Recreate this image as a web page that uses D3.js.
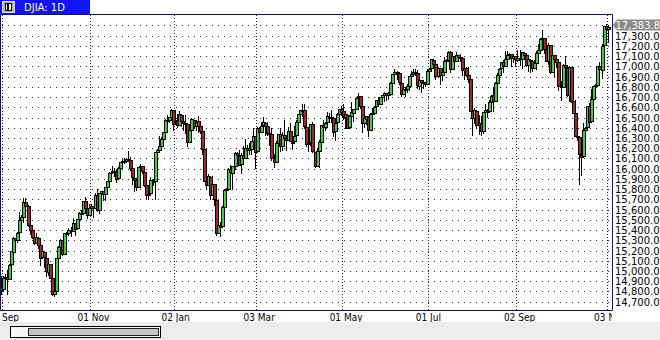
<!DOCTYPE html>
<html><head><meta charset="utf-8">
<script src="https://cdn.jsdelivr.net/npm/d3@7"></script>
<style>html,body{margin:0;padding:0;background:#fff;}svg{display:block;}</style>
</head><body><svg id="c" width="660" height="340"></svg>
<script>
// ---- DATA (DJIA daily, Sep 2013 - Nov 2014) ----
const dates = [
"2013-09-03","2013-09-04","2013-09-05","2013-09-06","2013-09-09","2013-09-10","2013-09-11","2013-09-12","2013-09-13","2013-09-16","2013-09-17","2013-09-18","2013-09-19","2013-09-20","2013-09-23","2013-09-24","2013-09-25","2013-09-26","2013-09-27","2013-09-30",
"2013-10-01","2013-10-02","2013-10-03","2013-10-04","2013-10-07","2013-10-08","2013-10-09","2013-10-10","2013-10-11","2013-10-14","2013-10-15","2013-10-16","2013-10-17","2013-10-18","2013-10-21","2013-10-22","2013-10-23","2013-10-24","2013-10-25","2013-10-28","2013-10-29","2013-10-30","2013-10-31",
"2013-11-01","2013-11-04","2013-11-05","2013-11-06","2013-11-07","2013-11-08","2013-11-11","2013-11-12","2013-11-13","2013-11-14","2013-11-15","2013-11-18","2013-11-19","2013-11-20","2013-11-21","2013-11-22","2013-11-25","2013-11-26","2013-11-27","2013-11-29",
"2013-12-02","2013-12-03","2013-12-04","2013-12-05","2013-12-06","2013-12-09","2013-12-10","2013-12-11","2013-12-12","2013-12-13","2013-12-16","2013-12-17","2013-12-18","2013-12-19","2013-12-20","2013-12-23","2013-12-24","2013-12-26","2013-12-27","2013-12-30","2013-12-31",
"2014-01-02","2014-01-03","2014-01-06","2014-01-07","2014-01-08","2014-01-09","2014-01-10","2014-01-13","2014-01-14","2014-01-15","2014-01-16","2014-01-17","2014-01-21","2014-01-22","2014-01-23","2014-01-24","2014-01-27","2014-01-28","2014-01-29","2014-01-30","2014-01-31",
"2014-02-03","2014-02-04","2014-02-05","2014-02-06","2014-02-07","2014-02-10","2014-02-11","2014-02-12","2014-02-13","2014-02-14","2014-02-18","2014-02-19","2014-02-20","2014-02-21","2014-02-24","2014-02-25","2014-02-26","2014-02-27","2014-02-28",
"2014-03-03","2014-03-04","2014-03-05","2014-03-06","2014-03-07","2014-03-10","2014-03-11","2014-03-12","2014-03-13","2014-03-14","2014-03-17","2014-03-18","2014-03-19","2014-03-20","2014-03-21","2014-03-24","2014-03-25","2014-03-26","2014-03-27","2014-03-28","2014-03-31",
"2014-04-01","2014-04-02","2014-04-03","2014-04-04","2014-04-07","2014-04-08","2014-04-09","2014-04-10","2014-04-11","2014-04-14","2014-04-15","2014-04-16","2014-04-17","2014-04-21","2014-04-22","2014-04-23","2014-04-24","2014-04-25","2014-04-28","2014-04-29","2014-04-30",
"2014-05-01","2014-05-02","2014-05-05","2014-05-06","2014-05-07","2014-05-08","2014-05-09","2014-05-12","2014-05-13","2014-05-14","2014-05-15","2014-05-16","2014-05-19","2014-05-20","2014-05-21","2014-05-22","2014-05-23","2014-05-27","2014-05-28","2014-05-29","2014-05-30",
"2014-06-02","2014-06-03","2014-06-04","2014-06-05","2014-06-06","2014-06-09","2014-06-10","2014-06-11","2014-06-12","2014-06-13","2014-06-16","2014-06-17","2014-06-18","2014-06-19","2014-06-20","2014-06-23","2014-06-24","2014-06-25","2014-06-26","2014-06-27","2014-06-30",
"2014-07-01","2014-07-02","2014-07-03","2014-07-07","2014-07-08","2014-07-09","2014-07-10","2014-07-11","2014-07-14","2014-07-15","2014-07-16","2014-07-17","2014-07-18","2014-07-21","2014-07-22","2014-07-23","2014-07-24","2014-07-25","2014-07-28","2014-07-29","2014-07-30","2014-07-31",
"2014-08-01","2014-08-04","2014-08-05","2014-08-06","2014-08-07","2014-08-08","2014-08-11","2014-08-12","2014-08-13","2014-08-14","2014-08-15","2014-08-18","2014-08-19","2014-08-20","2014-08-21","2014-08-22","2014-08-25","2014-08-26","2014-08-27","2014-08-28","2014-08-29",
"2014-09-02","2014-09-03","2014-09-04","2014-09-05","2014-09-08","2014-09-09","2014-09-10","2014-09-11","2014-09-12","2014-09-15","2014-09-16","2014-09-17","2014-09-18","2014-09-19","2014-09-22","2014-09-23","2014-09-24","2014-09-25","2014-09-26","2014-09-29","2014-09-30",
"2014-10-01","2014-10-02","2014-10-03","2014-10-06","2014-10-07","2014-10-08","2014-10-09","2014-10-10","2014-10-13","2014-10-14","2014-10-15","2014-10-16","2014-10-17","2014-10-20","2014-10-21","2014-10-22","2014-10-23","2014-10-24","2014-10-27","2014-10-28","2014-10-29","2014-10-30","2014-10-31",
"2014-11-03","2014-11-04"];

const opens = [
14815,14828,14930,14937,14925,15067,15188,15324,15304,15381,15494,15527,15678,15636,15450,15401,15336,15275,15327,15254,
15133,15188,15130,14994,15071,14935,14778,14807,15126,15236,15300,15168,15372,15373,15400,15393,15466,15416,15510,15570,15570,15681,15618,
15548,15617,15638,15620,15747,15592,15763,15779,15749,15819,15878,15963,15977,15967,15905,16008,16066,16074,16074,16098,
16086,16008,15913,15887,15824,16020,16024,15972,15842,15741,15758,15883,15876,16165,16180,16225,16293,16360,16479,16477,16505,
16572,16456,16474,16429,16527,16471,16445,16434,16262,16376,16479,16416,16462,16416,16370,16195,15879,15839,15923,15740,15848,
15698,15373,15443,15443,15630,15795,15804,15995,15960,16026,16154,16127,16042,16134,16104,16205,16181,16193,16275,
16316,16170,16395,16361,16425,16450,16420,16349,16341,16106,16068,16250,16335,16221,16334,16303,16277,16369,16265,16268,16327,
16458,16533,16573,16576,16411,16243,16258,16435,16166,16029,16176,16265,16423,16408,16454,16510,16505,16498,16364,16454,16534,
16581,16560,16509,16528,16404,16520,16545,16584,16697,16711,16610,16448,16488,16509,16377,16533,16541,16610,16676,16634,16701,
16716,16740,16720,16734,16838,16925,16941,16937,16841,16734,16770,16781,16807,16907,16922,16946,16937,16813,16863,16844,16850,
16828,16955,16980,17064,17021,16907,16982,16916,16948,17058,17060,17136,16976,17097,17049,17112,17087,17080,16964,16984,16915,16872,
16561,16493,16567,16425,16443,16370,16559,16566,16565,16651,16716,16665,16839,16917,16981,17039,17004,17076,17107,17119,17081,
17098,17067,17080,17070,17135,17110,17013,17065,17048,16987,17032,17130,17160,17266,17277,17172,17056,17208,16948,17108,17074,
17041,16808,16802,17012,16987,16721,16991,16661,16544,16321,16312,16135,16120,16379,16405,16614,16466,16677,16804,16823,17006,16967,17208,
17390,17364];

const highs = [
14950,14951,14975,15010,15070,15193,15328,15325,15380,15573,15547,15710,15710,15645,15464,15443,15370,15367,15327,15254,
15231,15188,15130,15073,15071,14946,14882,15131,15245,15311,15300,15374,15378,15419,15433,15515,15466,15513,15575,15594,15686,15722,15652,
15659,15653,15638,15763,15797,15767,15786,15779,15822,15877,15963,16030,16006,16000,16016,16065,16091,16108,16105,16174,
16117,16008,15950,15887,16021,16046,16024,15987,15842,15780,15920,15896,16168,16192,16318,16312,16358,16484,16529,16505,16588,
16573,16519,16533,16562,16528,16483,16529,16450,16380,16491,16479,16476,16511,16445,16370,16195,15944,15947,15923,15930,15848,
15708,15481,15478,15632,15798,15808,16006,16034,16029,16168,16167,16187,16158,16224,16288,16229,16247,16275,16398,
16316,16406,16406,16461,16505,16450,16459,16353,16397,16141,16270,16344,16396,16363,16474,16331,16405,16450,16294,16422,16479,
16539,16574,16632,16631,16419,16278,16437,16461,16166,16199,16278,16425,16474,16461,16558,16543,16574,16498,16492,16546,16581,
16615,16631,16531,16528,16520,16650,16588,16701,16736,16711,16610,16491,16512,16509,16541,16595,16611,16676,16699,16700,16721,
16747,16740,16749,16845,16928,16970,16955,16937,16855,16806,16796,16830,16907,16956,16978,16971,16968,16870,16863,16852,16852,
16978,16989,17074,17066,17021,16990,16982,16955,17088,17075,17151,17153,17101,17097,17138,17114,17120,17080,17003,16997,16990,16872,
16583,16598,16567,16523,16517,16555,16632,16580,16671,16720,16800,16850,16934,16980,17040,17064,17154,17153,17133,17119,17099,
17098,17158,17161,17141,17135,17116,17075,17065,17048,17060,17153,17222,17273,17351,17277,17172,17224,17208,17120,17108,17110,
17042,16857,17027,17099,16987,17004,16994,16744,16674,16536,16312,16236,16449,16408,16616,16645,16779,16806,16831,17006,17042,17216,17395,
17410,17391];

const lows = [
14777,14800,14913,14776,14925,15067,15188,15261,15285,15381,15494,15476,15629,15438,15365,15322,15262,15275,15223,15054,
15133,15043,14948,14963,14936,14770,14755,14807,15088,15131,15161,15168,15273,15349,15346,15393,15348,15416,15492,15548,15570,15572,15522,
15548,15592,15526,15620,15590,15568,15743,15694,15690,15810,15878,15960,15928,15872,15905,15990,16047,16059,16067,16083,
15990,15853,15784,15796,15824,16010,15954,15829,15710,15703,15758,15838,15703,16130,16180,16225,16293,16360,16465,16454,16505,
16375,16440,16405,16429,16416,16374,16353,16217,16262,16376,16393,16374,16357,16346,16140,15879,15805,15839,15704,15740,15641,
15356,15373,15341,15443,15630,15736,15804,15941,15799,15993,16076,16036,15961,16095,16104,16134,16146,16142,16241,
16002,16170,16343,16361,16423,16330,16326,16230,16084,16016,16068,16221,16169,16178,16300,16178,16277,16269,16191,16268,16327,
16458,16529,16519,16396,16223,16175,16230,16159,16015,16029,16017,16265,16357,16382,16454,16500,16453,16320,16276,16454,16465,
16524,16484,16397,16398,16404,16509,16469,16584,16682,16594,16359,16405,16439,16324,16377,16532,16541,16610,16631,16634,16660,
16665,16667,16680,16734,16838,16914,16875,16824,16713,16734,16713,16748,16771,16888,16922,16918,16787,16779,16749,16791,16810,
16828,16944,16980,17011,16878,16897,16825,16868,16948,16973,17060,16945,16976,16991,17049,17049,17055,16916,16879,16906,16852,16563,
16333,16444,16395,16340,16333,16350,16559,16509,16565,16637,16568,16665,16839,16861,16981,16943,17004,17076,17085,17002,17044,
17008,17057,17016,16981,17072,17002,16955,16949,16957,16983,16976,17089,17160,17229,17128,17052,17019,16938,16948,16906,16994,
16772,16674,16802,16943,16714,16659,16654,16540,16321,16279,15855,15936,16120,16249,16405,16456,16466,16603,16703,16823,16898,16886,17208,
17308,17236];

const closes = [
14834,14931,14937,14923,15063,15191,15327,15301,15376,15495,15530,15677,15637,15451,15401,15335,15273,15328,15258,15130,
15192,15133,14996,15073,14936,14777,14803,15126,15237,15301,15168,15374,15372,15400,15392,15468,15413,15509,15570,15569,15680,15618,15546,
15616,15639,15619,15747,15594,15762,15783,15751,15822,15876,15962,15976,15967,15901,16010,16065,16073,16073,16097,16086,
16009,15915,15890,15822,16020,16026,15973,15844,15739,15755,15885,15875,16168,16179,16221,16295,16358,16480,16478,16504,16577,
16441,16470,16425,16531,16463,16445,16437,16258,16374,16482,16417,16459,16414,16373,16197,15879,15838,15929,15739,15849,15699,
15373,15445,15440,15629,15794,15802,15995,15964,16028,16154,16130,16041,16133,16103,16207,16180,16198,16273,16322,
16168,16396,16360,16422,16453,16419,16351,16340,16109,16066,16247,16336,16222,16331,16303,16277,16368,16269,16264,16323,16458,
16533,16573,16573,16413,16246,16256,16437,16170,16027,16173,16263,16425,16409,16449,16514,16502,16502,16361,16449,16535,16581,
16559,16513,16531,16401,16519,16551,16583,16695,16715,16614,16447,16491,16512,16374,16533,16543,16606,16676,16633,16699,16717,
16744,16722,16738,16836,16924,16943,16946,16844,16734,16776,16781,16808,16907,16921,16947,16937,16818,16868,16846,16852,16827,
16956,16976,17068,17024,16907,16986,16915,16944,17055,17061,17138,16977,17100,17052,17114,17087,17084,16961,16983,16912,16880,16563,
16493,16569,16429,16443,16368,16554,16570,16561,16652,16714,16663,16839,16920,16979,17039,17001,17077,17107,17122,17080,17098,
17068,17078,17070,17137,17111,17014,17069,17049,16988,17031,17132,17157,17266,17280,17173,17056,17210,16946,17113,17071,17043,
16805,16801,17010,16992,16719,16994,16659,16544,16321,16315,16142,16117,16380,16400,16615,16461,16678,16805,16818,17006,16974,17195,17391,
17366,17383.84];

const tickDates  = ["2013-09-03","2013-11-01","2014-01-02","2014-03-03","2014-05-01","2014-07-01","2014-09-02","2014-11-03"];
const tickLabels = ["Sep","01 Nov","02 Jan","03 Mar","01 May","01 Jul","02 Sep","03 Nov"];
const yTickValues = [14700,14800,14900,15000,15100,15200,15300,15400,15500,15600,15700,15800,15900,16000,
                     16100,16200,16300,16400,16500,16600,16700,16800,16900,17000,17100,17200,17300,17400];
const chartTitle = "DJIA: 1D";

// ---- DRAWING ----
const svg = d3.select("#c");
const W = 660, H = 340;
const plot = {left: 0.5, top: 14.5, right: 612.5, bottom: 310.5};
const navy = "#10106e";
const upFill = "#3fcf3f", downFill = "#a3262a";

const x = d3.scalePoint().domain(dates).range([1.85, 608.65]);
const y = d3.scaleLinear().domain([14700, 17300]).range([301.7, 35.7]);

svg.append("rect").attr("x",0).attr("y",0).attr("width",W).attr("height",H).attr("fill","#fff");

const defs = svg.append("defs");
defs.append("clipPath").attr("id","plotClip").append("rect")
  .attr("x",1).attr("y",15).attr("width",611).attr("height",295);
defs.append("clipPath").attr("id","xClip").append("rect")
  .attr("x",0).attr("y",311).attr("width",612).attr("height",12);

// horizontal dotted grid
svg.append("g").selectAll("line").data(yTickValues).join("line")
  .attr("x1", 2).attr("x2", 612)
  .attr("y1", d => Math.round(y(d)) + 0.5).attr("y2", d => Math.round(y(d)) + 0.5)
  .attr("stroke", "#222").attr("stroke-dasharray", "1,5");

// vertical dotted grid
svg.append("g").selectAll("line").data(tickDates).join("line")
  .attr("x1", d => Math.round(x(d)) + 0.5).attr("x2", d => Math.round(x(d)) + 0.5)
  .attr("y1", 15).attr("y2", 310)
  .attr("stroke", "#222").attr("stroke-dasharray", "1,2");

// candles
const data = dates.map((d,i) => ({d, o: opens[i], h: highs[i], l: lows[i], c: closes[i]}));
const cg = svg.append("g").attr("clip-path","url(#plotClip)");
const k = cg.selectAll("g").data(data).join("g");
k.append("line")
  .attr("x1", d => Math.round(x(d.d)) - 0.5).attr("x2", d => Math.round(x(d.d)) - 0.5)
  .attr("y1", d => Math.round(y(d.h))).attr("y2", d => Math.round(y(d.l)) + 1)
  .attr("stroke", "#000");
k.append("rect")
  .attr("x", d => Math.round(x(d.d)) - 1.5)
  .attr("y", d => Math.round(y(Math.max(d.o, d.c))) + 0.5)
  .attr("width", 3)
  .attr("height", d => Math.max(1, Math.round(y(Math.min(d.o, d.c))) - Math.round(y(Math.max(d.o, d.c)))))
  .attr("fill", d => d.c >= d.o ? upFill : downFill)
  .attr("stroke", "#000");

// frame
svg.append("path")
  .attr("d", `M${plot.left},${plot.top}H${plot.right}V${plot.bottom}H${plot.left}Z`)
  .attr("fill","none").attr("stroke", navy);

// y labels
svg.append("g").selectAll("text").data(yTickValues).join("text")
  .attr("x", 615).attr("y", d => Math.round(y(d)) + 4)
  .attr("font-family", "DejaVu Sans").attr("font-size", 10).attr("fill", "#000")
  .text(d => d3.format(",.1f")(d));

// last price label
const last = closes[closes.length - 1];
const ly = Math.round(y(last)) - 2;
svg.append("path")
  .attr("d", `M613,${ly}L617,${ly-5.5}H660V${ly+5.5}H617Z`)
  .attr("fill", "#8a8a8a");
svg.append("text").attr("x", 615.5).attr("y", ly + 4)
  .attr("font-family", "DejaVu Sans").attr("font-size", 10).attr("fill", "#fff")
  .text(d3.format(",.1f")(last));

// x labels
svg.append("g").attr("clip-path","url(#xClip)")
  .selectAll("text").data(tickDates).join("text")
  .attr("x", d => Math.max(2, x(d) - 12.5)).attr("y", 321)
  .attr("font-family", "DejaVu Sans Condensed, DejaVu Sans").attr("font-stretch","condensed")
  .attr("font-size", 10).attr("fill", "#000")
  .text((d,i) => tickLabels[i]);

// bottom gray strip with scrollbar
svg.append("rect").attr("x",0).attr("y",322).attr("width",W).attr("height",18).attr("fill","#ececec");
svg.append("rect").attr("x",10.5).attr("y",326.5).attr("width",150).attr("height",11)
  .attr("fill","#f6f6f6").attr("stroke","#000");
svg.append("rect").attr("x",28.5).attr("y",328.5).attr("width",130).attr("height",7)
  .attr("fill","#c4c4c4").attr("stroke","#222");

// title bar
svg.append("rect").attr("x",0).attr("y",0).attr("width",90).attr("height",14).attr("fill","#1212f2");
svg.append("rect").attr("x",2.5).attr("y",1.5).attr("width",12).attr("height",11)
  .attr("fill","#b4b8c8").attr("stroke","#d8d8e0");
svg.append("rect").attr("x",5.5).attr("y",3.5).attr("width",6).attr("height",7)
  .attr("fill","#fff").attr("stroke","#000");
svg.append("rect").attr("x",7).attr("y",4).attr("width",2).attr("height",6).attr("fill","#000");
svg.append("text").attr("x",24).attr("y",11)
  .attr("font-family","DejaVu Sans").attr("font-size",10).attr("fill","#fff")
  .text(chartTitle);
</script></body></html>
